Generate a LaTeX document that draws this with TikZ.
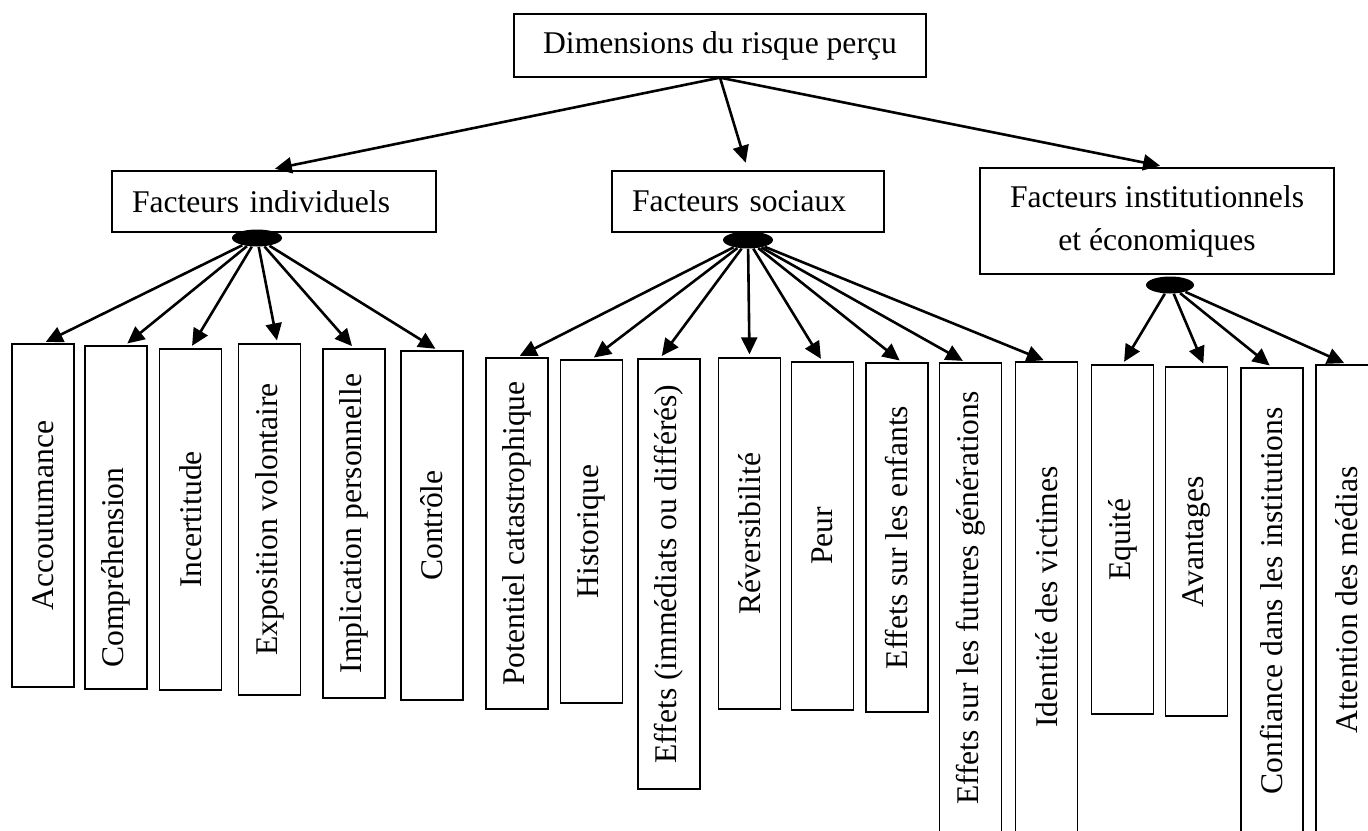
\documentclass[tikz,border=0pt]{standalone}
\usepackage{fontspec}
\setmainfont{Liberation Serif}
\usepackage{graphicx}
\usepackage{tikz}
\usetikzlibrary{arrows.meta,shapes.geometric}

\begin{document}
\begin{tikzpicture}[x=0.5pt, y=-0.5pt,
		every node/.style={font=\fontsize{15.8}{21.5}\selectfont},
		box/.style={draw, line width=0.65pt, inner sep=0pt},
		head/.style={box, minimum height=30.5pt, inner xsep=10pt, align=left},
		leaf/.style={box, minimum width=31pt},
		hub/.style={ellipse, fill=black, inner sep=0pt, minimum width=25pt, minimum height=8.5pt},
		arr/.style={line width=1.3pt, -{Triangle[length=8.5pt,width=8pt]}, shorten >=1.5pt}]
		%%%%% START %%%%%
		
		\useasboundingbox (0, 0) rectangle (1368, 830);
		\clip (0, 0) rectangle (1368, 830);
		
		\node[box, minimum width=206pt, minimum height=31.5pt] (top) at (720, 45.5) {Dimensions du risque perçu};
		
		\node[head, text width=142pt] (ind) at (274, 201.5) {Facteurs individuels};
		\node[head, text width=116pt] (soc) at (748, 201.5) {Facteurs sociaux};
		\node[box, minimum width=177pt, minimum height=53pt, align=center] (inst) at (1157, 221) {Facteurs institutionnels\\et économiques};
		
		\draw[arr, shorten >=4pt] (top.south) -- ([xshift=-3.5pt]ind.north);
		\draw[arr, shorten >=4pt] (top.south) -- (soc.north);
		\draw[arr, shorten >=4pt] (top.south) -- ([xshift=5.5pt]inst.north);
		
		\node[hub] (hubind) at (257, 238) {};
		\node[hub] (hubsoc) at (748, 240) {};
		\node[hub, minimum width=24pt] (hubinst) at (1170, 285) {};
		
		% individuels
		\node[leaf, minimum height=171.5pt] (acc) at (43, 515.5) {\rotatebox{90}{Accoutumance}};
		\node[leaf, minimum height=171.5pt] (comp) at (116, 517.5) {\rotatebox{90}{Compréhension\hspace*{50pt}}};
		\node[leaf, minimum height=170.5pt] (incert) at (190.5, 519.5) {\rotatebox{90}{Incertitude}};
		\node[leaf, minimum height=175.5pt] (expo) at (269.5, 519.5) {\rotatebox{90}{Exposition volontaire}};
		\node[leaf, minimum height=174.5pt] (impl) at (354, 523.5) {\rotatebox{90}{Implication personnelle}};
		\node[leaf, minimum height=174.5pt] (ctrl) at (432, 525.5) {\rotatebox{90}{Contrôle}};
		
		% sociaux
		\node[leaf, minimum height=175.5pt] (pot) at (517, 533.5) {\rotatebox{90}{Potentiel catastrophique}};
		\node[leaf, minimum height=171.5pt] (hist) at (591.5, 531.5) {\rotatebox{90}{Historique}};
		\node[leaf, minimum height=215pt] (eff) at (669, 574) {\rotatebox{90}{Effets (immédiats ou différés)}};
		\node[leaf, minimum height=175.5pt] (rev) at (749.5, 533.5) {\rotatebox{90}{Réversibilité}};
		\node[leaf, minimum height=174pt] (peur) at (822.5, 536) {\rotatebox{90}{Peur}};
		\node[leaf, minimum height=174.5pt] (enf) at (897, 537.5) {\rotatebox{90}{Effets sur les enfants}};
		\node[leaf, minimum height=235pt] (fut) at (970.5, 598) {\rotatebox{90}{Effets sur les futures générations}};
		\node[leaf, minimum height=235pt] (ident) at (1046.5, 597) {\rotatebox{90}{Identité des victimes}};
		
		% institutionnels
		\node[leaf, minimum height=174.5pt] (equi) at (1122.5, 539.5) {\rotatebox{90}{Equité}};
		\node[leaf, minimum height=174.5pt] (avant) at (1196.5, 541.5) {\rotatebox{90}{Avantages}};
		\node[leaf, minimum height=233pt] (conf) at (1272, 601) {\rotatebox{90}{Confiance dans les institutions}};
		\node[leaf, minimum height=235pt] (medias) at (1347, 600) {\rotatebox{90}{Attention des médias}};
		
		\draw[arr] (hubind) -- (acc.north);
		\draw[arr] (hubind) -- ([xshift=4.5pt]comp.north);
		\draw[arr] (hubind) -- (incert.north);
		\draw[arr] (hubind) -- ([xshift=4pt]expo.north);
		\draw[arr] (hubind) -- (impl.north);
		\draw[arr] (hubind) -- ([xshift=3pt]ctrl.north);
		
		\draw[arr] (hubsoc) -- (pot.north);
		\draw[arr] (hubsoc) -- (hist.north);
		\draw[arr] (hubsoc) -- ([xshift=-4.5pt]eff.north);
		\draw[arr] (hubsoc) -- (rev.north);
		\draw[arr] (hubsoc) -- (peur.north);
		\draw[arr] (hubsoc) -- ([xshift=2.5pt]enf.north);
		\draw[arr] (hubsoc) -- ([xshift=-2.5pt]fut.north);
		\draw[arr] (hubsoc) -- (ident.north);
		
		\draw[arr] (hubinst) -- (equi.north);
		\draw[arr] (hubinst) -- ([xshift=4pt]avant.north);
		\draw[arr] (hubinst) -- (conf.north);
		\draw[arr] (hubinst) -- (medias.north);
		
		%%%%% END %%%%%
	\end{tikzpicture}
\end{document}
